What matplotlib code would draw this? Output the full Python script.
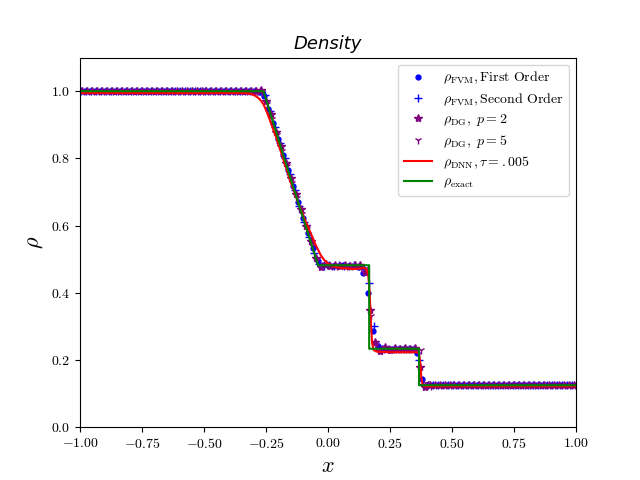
# densité : comparaison FVM / DG / DNN / solution exacte

import numpy as np
import matplotlib.pyplot as plt

plt.rcParams['mathtext.fontset'] = 'cm'
plt.rcParams['font.family'] = 'serif'
plt.rcParams['font.serif'] = ['cmr10']
plt.rcParams['axes.formatter.use_mathtext'] = True

# grille des points (101 points, pas 0.02), chaque schema decale un peu
x_grid = np.linspace(-1, 1, 101)
x_fvm1 = x_grid
x_fvm2 = x_grid + 0.005
x_dg2 = x_grid + 0.01
x_dg5 = x_grid + 0.015

rho_fvm1 = [1.0] * 35 + [
    1.0, 0.998, 0.985, 0.948, 0.904, 0.858, 0.811, 0.764, 0.717, 0.670,
    0.624, 0.578, 0.533, 0.494, 0.484, 0.482, 0.481, 0.481, 0.482, 0.481,
    0.480, 0.476, 0.458, 0.40, 0.285, 0.243, 0.236, 0.234, 0.2335, 0.233,
    0.234, 0.2335, 0.232, 0.222, 0.142, 0.126] + [0.125] * 30

rho_fvm2 = [1.0] * 35 + [
    1.0, 1.0, 0.99, 0.942, 0.893, 0.847, 0.80, 0.753, 0.706, 0.659,
    0.612, 0.565, 0.519, 0.485, 0.481, 0.482, 0.481, 0.483, 0.481, 0.480,
    0.482, 0.481, 0.472, 0.43, 0.30, 0.238, 0.233, 0.2335, 0.234, 0.233,
    0.2335, 0.234, 0.233, 0.20, 0.13, 0.125] + [0.125] * 30

rho_dg2 = [1.0] * 35 + [
    1.001, 1.003, 0.972, 0.931, 0.880, 0.836, 0.787, 0.742, 0.693, 0.648,
    0.599, 0.554, 0.505, 0.478, 0.486, 0.479, 0.484, 0.480, 0.483, 0.479,
    0.482, 0.484, 0.462, 0.35, 0.255, 0.228, 0.238, 0.231, 0.235, 0.232,
    0.236, 0.233, 0.235, 0.178, 0.121, 0.127] + [0.125] * 30

rho_dg5 = [1.0] * 35 + [
    1.0, 0.997, 0.963, 0.917, 0.871, 0.823, 0.777, 0.728, 0.683, 0.634,
    0.589, 0.540, 0.497, 0.481, 0.482, 0.481, 0.480, 0.482, 0.481, 0.481,
    0.483, 0.480, 0.474, 0.33, 0.242, 0.231, 0.235, 0.233, 0.234, 0.2335,
    0.233, 0.234, 0.233, 0.229, 0.132, 0.124] + [0.125] * 30

# reseau de neurones
x_dnn = [-1.0, -0.34, -0.31, -0.29, -0.275, -0.26, -0.245, -0.23, -0.21,
         -0.19, -0.17, -0.15, -0.13, -0.11, -0.09, -0.07, -0.05, -0.03,
         -0.015, 0.0, 0.015, 0.03, 0.06, 0.10, 0.13, 0.145, 0.155, 0.162,
         0.168, 0.173, 0.178, 0.184, 0.195, 0.25, 0.35, 0.366, 0.371,
         0.376, 0.381, 0.39, 1.0]
rho_dnn = [0.995, 0.995, 0.992, 0.985, 0.976, 0.961, 0.935, 0.905, 0.865,
           0.820, 0.774, 0.728, 0.688, 0.648, 0.612, 0.578, 0.543, 0.513,
           0.497, 0.487, 0.481, 0.477, 0.473, 0.471, 0.472, 0.474, 0.470,
           0.455, 0.40, 0.31, 0.25, 0.23, 0.225, 0.223, 0.223, 0.222, 0.20,
           0.15, 0.127, 0.122, 0.122]

# solution exacte
x_exact = [-1.0, -0.26, -0.15, -0.04, 0.166, 0.166, 0.367, 0.367, 1.0]
rho_exact = [1.0, 1.0, 0.738, 0.482, 0.482, 0.2335, 0.2335, 0.125, 0.125]

plt.plot(x_fvm1, rho_fvm1, 'bo', ms=3.5, ls='',
         label=r'$\rho_{\mathrm{FVM}}, \mathrm{First\ Order}$')
plt.plot(x_fvm2, rho_fvm2, 'b+', ms=5.5, ls='',
         label=r'$\rho_{\mathrm{FVM}}, \mathrm{Second\ Order}$')
plt.plot(x_dg2, rho_dg2, '*', color='purple', ms=6, ls='',
         label=r'$\rho_{\mathrm{DG}},\ p=2$')
plt.plot(x_dg5, rho_dg5, '1', color='purple', ms=5.5, ls='',
         label=r'$\rho_{\mathrm{DG}},\ p=5$')
plt.plot(x_dnn, rho_dnn, 'r', lw=1.5, label=r'$\rho_{\mathrm{DNN}}, \tau=.005$')
plt.plot(x_exact, rho_exact, 'g', lw=1.5, label=r'$\rho_{\mathrm{exact}}$')

plt.xlim(-1, 1)
plt.ylim(0, 1.1)
plt.xlabel(r'$x$', fontsize=16)
plt.ylabel(r'$\rho$', fontsize=16)
plt.title('Density', fontsize=13, family='DejaVu Sans', style='italic')
plt.legend(loc='upper right', labelspacing=0.34)
plt.savefig('out.png')
